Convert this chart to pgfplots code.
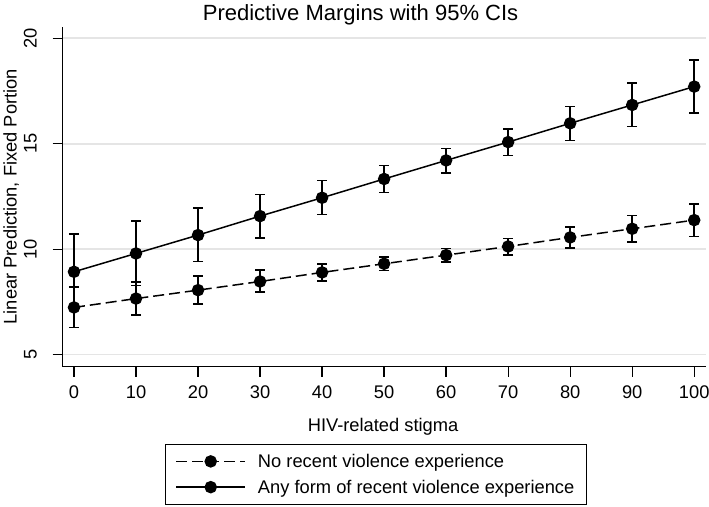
\documentclass[border=0pt]{standalone}
\usepackage{pgfplots}
\pgfplotsset{compat=1.18}
\usepackage{pgfplotstable}
\usepackage{fontspec}
\setmainfont{Liberation Sans}

\pgfplotstableread{
x y lo hi
0 7.24 6.30 8.20
10 7.66 6.87 8.45
20 8.06 7.41 8.72
30 8.47 7.97 9.01
40 8.90 8.50 9.29
50 9.31 8.99 9.64
60 9.72 9.39 10.04
70 10.13 9.73 10.51
80 10.56 10.05 11.05
90 10.97 10.34 11.59
100 11.38 10.61 12.15
}\norecent

\pgfplotstableread{
x y lo hi
0 8.93 7.13 10.73
10 9.80 8.28 11.33
20 10.67 9.42 11.95
30 11.57 10.54 12.60
40 12.44 11.65 13.25
50 13.33 12.69 13.96
60 14.21 13.62 14.78
70 15.08 14.45 15.71
80 15.97 15.16 16.76
90 16.84 15.83 17.88
100 17.71 16.46 18.98
}\anyrecent

\begin{document}
\begin{tikzpicture}
\path[use as bounding box] (0,0) rectangle (709pt,506pt);
\begin{axis}[
  at={(62.7pt,139.3pt)}, anchor=south west,
  scale only axis, width=643.3pt, height=340pt,
  xmin=-1.82, xmax=101.9, ymin=4.43, ymax=20.55,
  axis x line=bottom, axis y line=left,
  axis line style={-, line width=1.3pt, black},
  xtick={0,10,...,100}, ytick={5,10,15,20},
  tick align=outside, major tick length=10pt,
  tick style={line width=1.3pt, black},
  ymajorgrids, grid style={line width=1.6pt, color=black!10},
  /pgf/number format/assume math mode=true,
  ticklabel style={font=\fontsize{18.3}{21}\selectfont},
  xticklabel style={anchor=base, inner sep=0pt, yshift=-21.6pt},
  yticklabel style={xshift=-16pt, rotate=90, anchor=base, inner sep=0pt},
  title={Predictive Margins with 95\% CIs},
  title style={at={(axis description cs:0.463,1.0003)}, anchor=base, inner sep=0pt, font=\fontsize{22}{26}\selectfont},
  xlabel={HIV-related stigma},
  xlabel style={at={(axis description cs:0.498,-0.191)}, anchor=base, inner sep=0pt, font=\fontsize{18.3}{21}\selectfont},
  ylabel={Linear Prediction, Fixed Portion},
  ylabel style={at={(axis description cs:-0.0715,0.5)}, anchor=base, inner sep=0pt, font=\fontsize{18.3}{21}\selectfont},
  legend image code/.code={
    \draw[mark repeat=2, mark phase=2, #1] plot coordinates {(0pt,0pt) (34.5pt,0pt) (69pt,0pt)};
  },
  legend style={
    at={(axis description cs:0.159,-0.2274)}, anchor=north west,
    draw=black, line width=1pt, fill=white,
    font=\fontsize{18.3}{21}\selectfont,
    inner xsep=10pt, inner ysep=7.5pt,
    legend cell align=left,
    row sep=7pt,
    nodes={inner sep=2pt},
    /tikz/every odd column/.append style={column sep=10pt},
  },
  error bars/y dir=both, error bars/y explicit,
  error bars/error bar style={line width=1.5pt, solid, black},
  error bars/error mark options={rotate=90, mark size=5pt, line width=1.5pt, black},
]
\addplot[black, line width=1.5pt, dash pattern=on 11pt off 5pt, mark=*, mark size=5.5pt, mark options={solid, fill=black}]
  table[x=x, y=y, y error plus expr=\thisrow{hi}-\thisrow{y}, y error minus expr=\thisrow{y}-\thisrow{lo}] {\norecent};
\addlegendentry{No recent violence experience}
\addplot[black, line width=1.5pt, solid, mark=*, mark size=5.5pt, mark options={solid, fill=black}]
  table[x=x, y=y, y error plus expr=\thisrow{hi}-\thisrow{y}, y error minus expr=\thisrow{y}-\thisrow{lo}] {\anyrecent};
\addlegendentry{Any form of recent violence experience\hspace{13pt}}
\end{axis}
\end{tikzpicture}
\end{document}
